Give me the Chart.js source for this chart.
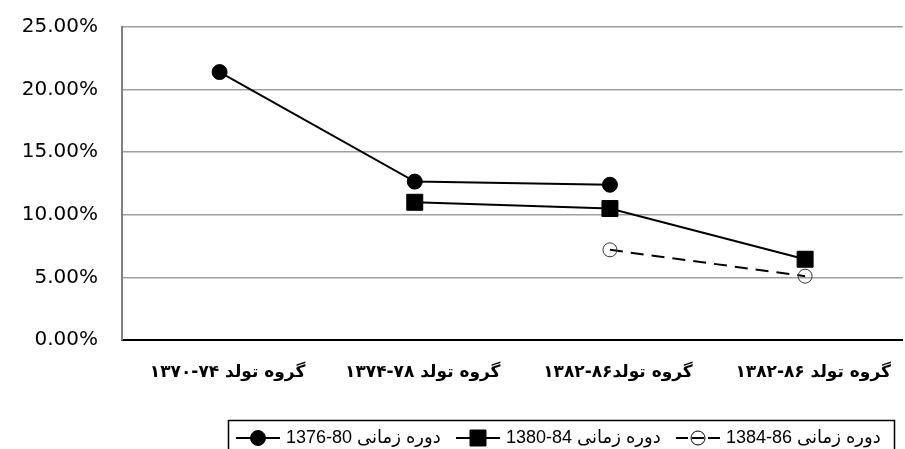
<!DOCTYPE html>
<html>
<head>
<meta charset="utf-8">
<script src="https://cdn.jsdelivr.net/npm/chart.js@4.4.1/dist/chart.umd.min.js"></script>
<style>
    html, body { margin: 0; padding: 0; background: #fff; overflow: hidden; }
    #chart { display: block; direction: rtl; }
</style>
</head>
<body>
<canvas id="chart" width="915" height="449"></canvas>
<script>
// Data
const categories = ['گروه تولد ۷۴-۱۳۷۰', 'گروه تولد ۷۸-۱۳۷۴', 'گروه تولد۸۶-۱۳۸۲', 'گروه تولد ۸۶-۱۳۸۲'];
const seriesNames = ['دوره زمانی 80-1376', 'دوره زمانی 84-1380', 'دوره زمانی 86-1384'];
const period7680 = [21.4, 12.65, 12.4, null];
const period8084 = [null, 11.0, 10.5, 6.45];
const period8486 = [null, null, 7.2, 5.1];
const yTicks = [0, 5, 10, 15, 20, 25];

// legend item left edges (layout only)
const legendX = [236, 456, 676];

const ctx = document.getElementById('chart').getContext('2d');

// Draw one marker like the chart points
function drawMarker(c, style, x, y, r, fill) {
    c.save();
    c.beginPath();
    if (style === 'rect') {
        const s = Math.SQRT1_2 * r;
        c.rect(x - s, y - s, 2 * s, 2 * s);
    } else {
        c.arc(x, y, r, 0, Math.PI * 2);
    }
    c.fillStyle = fill;
    c.fill();
    c.lineWidth = 1;
    c.strokeStyle = '#000';
    c.stroke();
    c.restore();
}

// Bordered legend box at the bottom, Excel style
const boxLegend = {
    id: 'boxLegend',
    afterDraw(chart) {
        const c = chart.ctx;
        c.save();
        c.strokeStyle = '#000';
        c.lineWidth = 1.5;
        c.strokeRect(228.5, 420.5, 666, 60);
        chart.data.datasets.forEach((ds, i) => {
            const x0 = legendX[i];
            const y = 438;
            // dashed series shows as "- o -", solid ones as one line
            const segs = ds.borderDash
                ? [[x0, x0 + 12], [x0 + 16, x0 + 28], [x0 + 32, x0 + 44]]
                : [[x0, x0 + 44]];
            c.save();
            c.strokeStyle = '#000';
            c.lineWidth = 2;
            segs.forEach(([a, b]) => {
                c.beginPath();
                c.moveTo(a, y);
                c.lineTo(b, y);
                c.stroke();
            });
            c.restore();
            drawMarker(c, ds.pointStyle, x0 + 22, y, ds.pointRadius, ds.pointBackgroundColor);
            c.fillStyle = '#000';
            c.font = '18px "Liberation Sans", "DejaVu Sans", sans-serif';
            c.direction = 'rtl';
            c.textAlign = 'left';
            c.textBaseline = 'middle';
            c.fillText(ds.label, x0 + 50, y);
        });
        c.restore();
    }
};

new Chart(ctx, {
    type: 'line',
    data: {
        labels: categories,
        datasets: [
            {
                label: seriesNames[0],
                data: period7680,
                borderColor: '#000',
                borderWidth: 2,
                pointStyle: 'circle',
                pointRadius: 7.5,
                pointBackgroundColor: '#000',
                pointBorderColor: '#000',
                pointBorderWidth: 1
            },
            {
                label: seriesNames[1],
                data: period8084,
                borderColor: '#000',
                borderWidth: 2,
                pointStyle: 'rect',
                pointRadius: 11.3,
                pointBackgroundColor: '#000',
                pointBorderColor: '#000',
                pointBorderWidth: 1
            },
            {
                label: seriesNames[2],
                data: period8486,
                borderColor: '#000',
                borderWidth: 2,
                borderDash: [13, 8],
                pointStyle: 'circle',
                pointRadius: 7,
                pointBackgroundColor: 'rgba(0,0,0,0)',
                pointBorderColor: '#333',
                pointBorderWidth: 1
            }
        ]
    },
    options: {
        responsive: false,
        animation: false,
        layout: { padding: { top: 27, right: 3, bottom: 64, left: 0 } },
        plugins: {
            legend: { display: false },
            tooltip: { enabled: false }
        },
        scales: {
            x: {
                offset: true,
                afterFit: (scale) => { scale.height = 45; },
                grid: { display: false, drawTicks: false },
                border: { color: '#000', width: 2 },
                ticks: {
                    color: '#000',
                    padding: 22,
                    labelOffset: 8,
                    maxRotation: 0,
                    autoSkip: false,
                    font: { family: '"DejaVu Sans", sans-serif', size: 17, weight: 'bold' }
                }
            },
            y: {
                min: 0,
                max: 25,
                afterFit: (scale) => {
                    scale.width = 122;
                    scale.paddingTop = 0;
                    scale.paddingBottom = 0;
                },
                afterBuildTicks: (scale) => { scale.ticks = yTicks.map(v => ({ value: v })); },
                grid: { color: '#a0a0a0', lineWidth: 1.5, drawTicks: false },
                border: { color: '#808080', width: 2 },
                ticks: {
                    color: '#000',
                    padding: 24,
                    font: { family: '"DejaVu Sans", sans-serif', size: 20 },
                    callback: (v) => v.toFixed(2) + '%'
                }
            }
        }
    },
    plugins: [boxLegend]
});
</script>
</body>
</html>
